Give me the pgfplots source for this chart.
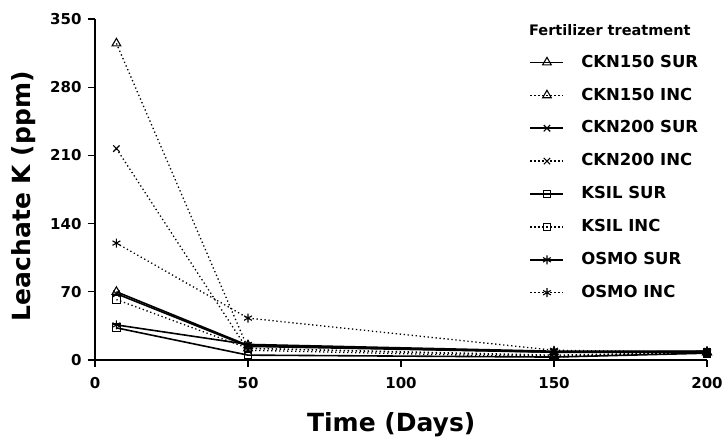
\documentclass[border=0pt]{standalone}
\usepackage{fontspec}
\setmainfont{DejaVu Sans}
\usepackage{pgfplots}
\pgfplotsset{compat=1.18}

% leachate K values (days 7, 50, 150, 200)
\begin{document}
\begin{tikzpicture}[x=1pt,y=1pt]
\useasboundingbox (-95pt,-79pt) rectangle (629pt,360pt);
\begin{axis}[
    scale only axis,
    width=612pt, height=341pt,
    xmin=0, xmax=200, ymin=0, ymax=350,
    axis x line=bottom, axis y line=left,
    axis line style={-, line width=1.4pt},
    xtick={0,50,100,150,200},
    ytick={0,70,140,210,280,350},
    tick align=outside,
    major tick length=7pt,
    tick style={line width=1.4pt, black},
    /pgf/number format/assume math mode=true,
    ticklabel style={font=\fontsize{15}{17}\selectfont\bfseries},
    xticklabel style={yshift=-7pt},
    yticklabel style={xshift=-3pt},
    xlabel={Time (Days)},
    ylabel={Leachate K (ppm)},
    label style={font=\fontsize{25}{28}\selectfont\bfseries},
    xlabel style={at={(axis description cs:0.484,-0.19)}, anchor=center},
    ylabel style={at={(axis description cs:-0.116,0.48)}, anchor=center},
    clip=false,
    legend cell align=left,
    legend style={draw=none, fill=none, at={(rel axis cs:0.705,0.899)}, anchor=north west,
        font=\fontsize{16.5}{18}\selectfont\bfseries,
        nodes={inner sep=0pt, text height=11.5pt, text depth=0pt},
        row sep=21.4pt},
    legend image code/.code={\draw[mark repeat=2,mark phase=2,#1] plot coordinates {(0pt,-1pt) (16.5pt,-1pt) (33pt,-1pt)};
        \path (50pt,-1pt);},
    sur/.style={line width=1.6pt},
    inc/.style={line width=1.3pt, dash pattern=on 1.3pt off 2.7pt},
    every axis plot/.append style={black, mark options={solid, line width=1.1pt}},
]
\addplot[sur, mark=triangle, mark size=5pt] coordinates {(7,70) (50,15) (150,8) (200,8)};
\addlegendentry{CKN150 SUR}
\addplot[inc, mark=triangle, mark size=5pt] coordinates {(7,325) (50,12) (150,4) (200,8)};
\addlegendentry{CKN150 INC}
\addplot[sur, mark=x, mark size=4.5pt] coordinates {(7,68) (50,14) (150,8) (200,9)};
\addlegendentry{CKN200 SUR}
\addplot[inc, mark=x, mark size=4.5pt] coordinates {(7,217) (50,10) (150,3) (200,8)};
\addlegendentry{CKN200 INC}
\addplot[sur, mark=square, mark size=3.8pt] coordinates {(7,33) (50,5) (150,3) (200,7)};
\addlegendentry{KSIL SUR}
\addplot[inc, mark=square, mark size=3.8pt] coordinates {(7,62) (50,12) (150,5) (200,8)};
\addlegendentry{KSIL INC}
\addplot[sur, mark=asterisk, mark size=4.5pt] coordinates {(7,36) (50,16) (150,9) (200,9)};
\addlegendentry{OSMO SUR}
\addplot[inc, mark=asterisk, mark size=4.5pt] coordinates {(7,120) (50,43) (150,10) (200,8)};
\addlegendentry{OSMO INC}
\node[anchor=west, font=\fontsize{14.5}{16}\selectfont\bfseries, inner sep=0pt] at (rel axis cs:0.709,0.968) {Fertilizer treatment};
\end{axis}
\end{tikzpicture}
\end{document}
